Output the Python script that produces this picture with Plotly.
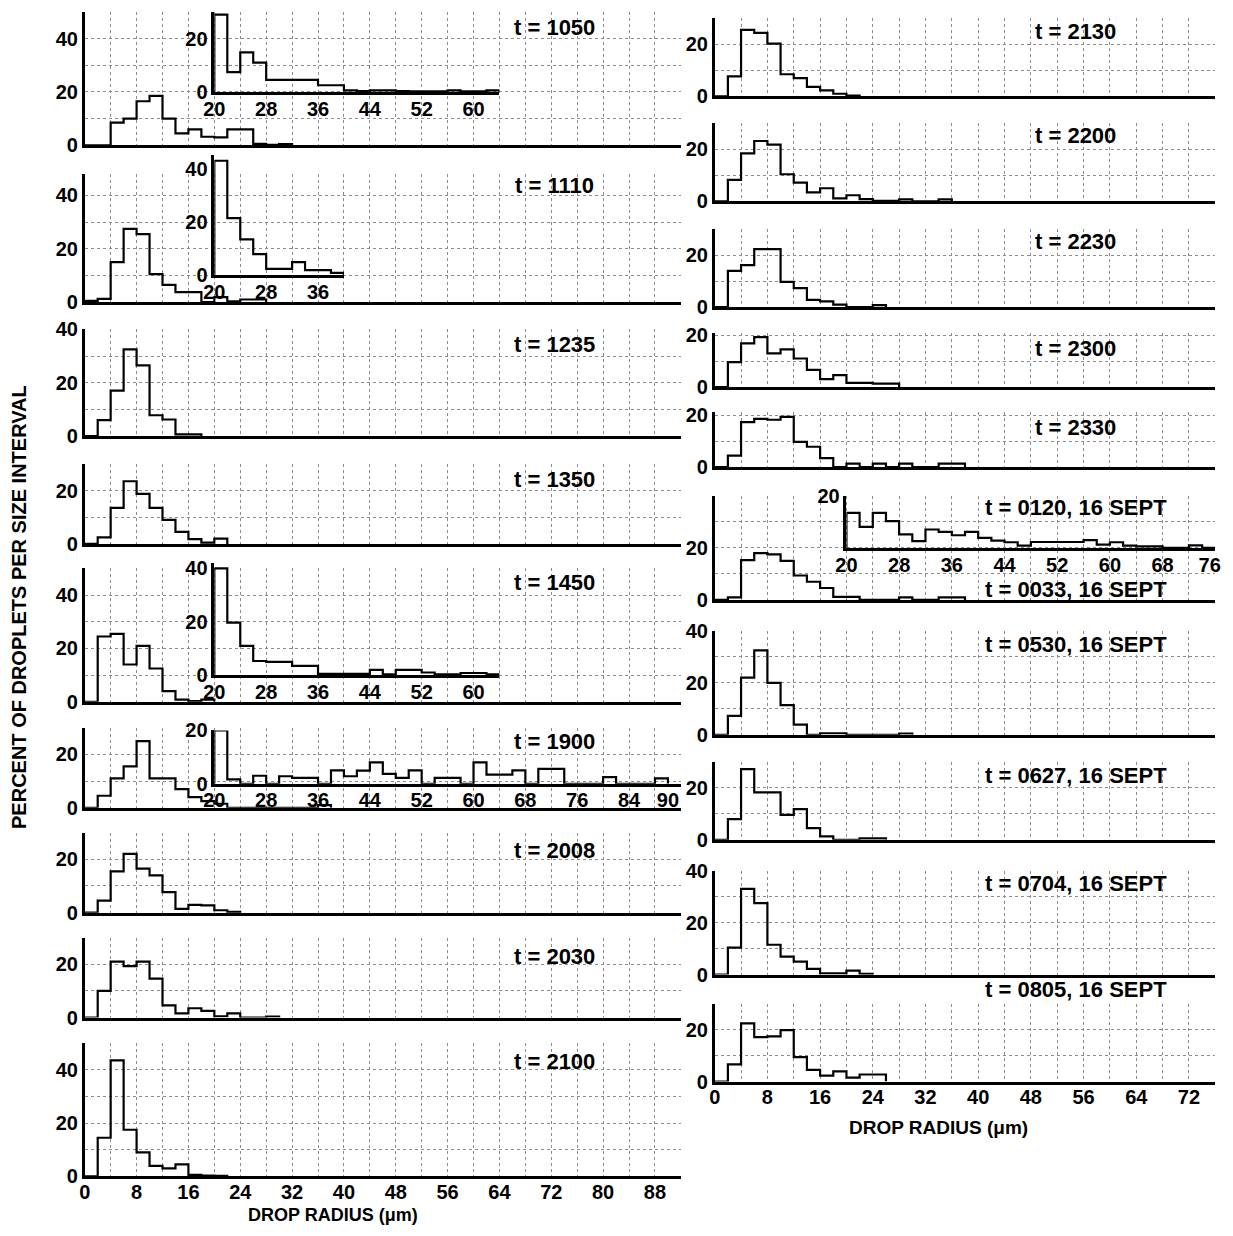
import plotly.graph_objects as go

# ---------------------------------------------------------------
# Droplet size spectra: percent of droplets per 2-um radius interval
# Each list starts at the bin 0-2 um (main panels) or 20-22 um (insets)
# ---------------------------------------------------------------
BIN = 2

# left column
pct_1050 = [0, 0, 8.5, 10, 16.5, 18.5, 10, 4.5, 6, 3.2, 3, 6, 6, 0.5, 0.2, 0.4]
tail_1050 = [29, 7.4, 14.8, 11, 4.5, 4.5, 4.5, 4.5, 2.5, 2.5, 0.6, 0.3, 0.6, 0.6,
             0.3, 0.2, 0.2, 0.2, 0.6, 0.2, 0.2, 0.6]
pct_1110 = [0.5, 1.2, 15, 27.5, 25.5, 10.5, 6.5, 3.8, 3.8, 0, 1.9, 0.3, 1, 1]
tail_1110 = [43, 21.5, 13.5, 8, 2.5, 2.5, 5, 2, 2, 1]
pct_1235 = [0, 6, 17, 32.5, 26.5, 7.8, 6.2, 0.6, 0.6]
pct_1350 = [0, 2.5, 13.5, 23.5, 18.8, 13.5, 9, 4.5, 1.8, 0.5, 2]
pct_1450 = [0, 24.5, 25.5, 14, 21, 12.5, 4, 0.8, 0.3, 0.8]
tail_1450 = [40, 19.7, 11, 5.3, 5, 5, 3.5, 3.5, 0.5, 0.5, 0.5, 0.5, 2, 0.3,
             2, 2, 1, 0.3, 0.3, 0.8, 0.8, 0.3]
pct_1900 = [0, 4.5, 11, 15.5, 25, 11, 11, 7, 4, 2.5, 1.5, 0, 0, 0, 0, 0, 0, 0, 1]
tail_1900 = [20, 1.6, 0, 3, 0, 2.8, 2.2, 2.2, 0, 5, 2.8, 4.9, 8, 3.7, 2.2, 5, 0,
             2.2, 2.2, 0, 8, 3.4, 3.4, 5, 0, 5.6, 5.6, 0, 0, 0, 2.5, 0, 0, 0, 2]
pct_2008 = [0, 4.5, 15.5, 22, 16.5, 14, 7.7, 1.4, 2.9, 2.7, 0.9, 0.3]
pct_2030 = [0, 10, 21, 19.3, 21, 14.6, 4.6, 1.6, 3.5, 2.5, 0.5, 1.6, 0, 0, 0.4]
pct_2100 = [0, 14.5, 43.5, 17.5, 9, 4, 3, 4.5, 0.6, 0.3, 0.2]

# right column
pct_2130 = [0, 7.7, 25.6, 24.4, 20.3, 8.5, 7, 3.6, 2.3, 1, 0.3]
pct_2200 = [0, 8.2, 18.4, 23.2, 21.8, 10.4, 7.2, 3.4, 5, 1.1, 2.3, 0.8, 0.2, 0.2,
            0.7, 0, 0, 0.7]
pct_2230 = [0, 14, 16.2, 22.3, 22.3, 9.7, 7.3, 2.8, 2.2, 1, 0, 0, 0.8]
pct_2300 = [0, 9.6, 16.8, 19.2, 13, 14.5, 11, 6.6, 3.1, 4.6, 1.6, 1.6, 1.3, 1.3]
pct_2330 = [0, 4.4, 17.3, 18.5, 18.2, 19.3, 9.7, 7.8, 3.4, 0, 1.3, 0, 1.3, 0,
            1.3, 0, 0, 1.3, 1.3]
pct_0033 = [0, 1, 15.3, 18, 17.5, 15, 9.4, 7, 4.6, 1.2, 1.2, 0, 0, 0, 1, 0, 0, 1, 1]
tail_0120 = [13.5, 8.1, 13.5, 10.3, 5.2, 2.6, 7.1, 6.2, 4.9, 6.2, 3.9, 2.8, 2.2,
             0.9, 2.3, 2.3, 2.3, 2.3, 3, 1.3, 2.2, 0.9, 0.6, 0.6, 0, 0, 1, 0]
pct_0530 = [0, 7.3, 22, 32.5, 20, 11.4, 3.9, 0, 0.6, 0.6, 0, 0, 0, 0, 0.5]
pct_0627 = [0, 7.9, 27.2, 18.2, 18.2, 9.6, 11.8, 4.5, 1.3, 0, 0, 0.5, 0.5]
pct_0704 = [0, 10.4, 33, 27.5, 11.5, 6.9, 5, 2.2, 0.5, 0.5, 1.5, 0.3]
pct_0805 = [0, 6.6, 22.4, 17.1, 17.4, 19.8, 9.4, 4.5, 2.3, 3.9, 1.5, 2.7, 2.7]

# ---------------------------------------------------------------
# sheet geometry: positions below are sheet pixels, mapped onto the
# figure's paper through a small offset and scale
# ---------------------------------------------------------------
W, H = 1233, 1236
OFF_X, SC_X = 9.9, 0.982
OFF_Y, SC_Y = 10.6, 0.983
FONT = "Liberation Sans"

COLS = {
    # x0 px, x1 px, x max (um), px per percent, label centre x
    "L": dict(x0=84, x1=683, xmax=92, yscale=2.67, label_x=556),
    "R": dict(x0=717, x1=1220, xmax=76, yscale=2.6, label_x=1080),
}

# (column, baseline px, y max, y tick labels, title, title y px, values, bottom?)
panels = [
    ("L", 145, 50, [0, 20, 40], "t = 1050", 27, pct_1050, False),
    ("L", 302, 48, [0, 20, 40], "t = 1110", 185, pct_1110, False),
    ("L", 436, 40, [0, 20, 40], "t = 1235", 344, pct_1235, False),
    ("L", 544, 30, [0, 20], "t = 1350", 479, pct_1350, False),
    ("L", 702, 50, [0, 20, 40], "t = 1450", 583, pct_1450, False),
    ("L", 808, 30, [0, 20], "t = 1900", 742, pct_1900, False),
    ("L", 913, 30, [0, 20], "t = 2008", 851, pct_2008, False),
    ("L", 1018, 30, [0, 20], "t = 2030", 957, pct_2030, False),
    ("L", 1177, 50, [0, 20, 40], "t = 2100", 1062, pct_2100, True),
    ("R", 96, 30, [0, 20], "t = 2130", 31, pct_2130, False),
    ("R", 201, 30, [0, 20], "t = 2200", 135, pct_2200, False),
    ("R", 307, 30, [0, 20], "t = 2230", 241, pct_2230, False),
    ("R", 387, 21, [0, 20], "t = 2300", 348, pct_2300, False),
    ("R", 467, 21, [0, 20], "t = 2330", 427, pct_2330, False),
    ("R", 600, 40, [0, 20], "t = 0033, 16 SEPT", 590, pct_0033, False),
    ("R", 735, 40, [0, 20, 40], "t = 0530, 16 SEPT", 645, pct_0530, False),
    ("R", 840, 30, [0, 20], "t = 0627, 16 SEPT", 776, pct_0627, False),
    ("R", 975, 40, [0, 20, 40], "t = 0704, 16 SEPT", 884, pct_0704, False),
    ("R", 1082, 30, [0, 20], "t = 0805, 16 SEPT", 990, pct_0805, True),
]

# (parent panel index, baseline in parent %, y max, x end, x ticks, y ticks, values)
insets = [
    (0, 20, 30, 64, list(range(20, 61, 8)), [0, 20], tail_1050),
    (1, 10, 45, 40, [20, 28, 36], [0, 20, 40], tail_1110),
    (4, 10, 42, 64, list(range(20, 61, 8)), [0, 20, 40], tail_1450),
    (5, 9, 20, 92, list(range(20, 85, 8)) + [90], [0, 20], tail_1900),
    (14, 20, 20, 76, list(range(20, 77, 8)), [20], tail_0120),
]
inset_titles = [("t = 0120, 16 SEPT", 508)]


def fx(px):
    return ((px - OFF_X) / SC_X) / W


def fy(py):
    return 1 - ((py - OFF_Y) / SC_Y) / H


def step_outline(values, start):
    """Outline of a histogram with 2-um bins, drawn as an hv step line."""
    xs = [start] + [start + BIN * i for i in range(len(values))] + [start + BIN * len(values)]
    ys = [0] + list(values) + [0]
    return xs, ys


tickfont = dict(family=FONT, size=20, color="black", weight="bold")
line_style = dict(showline=True, linecolor="black", linewidth=2.5,
                  zeroline=False, ticks="", mirror=False)
grid_style = dict(showgrid=True, gridcolor="#8c8c8c", gridwidth=1, griddash="dot")

fig = go.Figure()
layout = {}
annotations = []


def label(text, px, py, size, angle=0):
    annotations.append(dict(text="<b>%s</b>" % text, x=fx(px), y=fy(py),
                            xref="paper", yref="paper", showarrow=False,
                            xanchor="center", yanchor="middle", textangle=angle,
                            font=dict(family=FONT, size=size, color="black")))


n = 0
for col, base, ymax, ylabs, title, ty, vals, bottom in panels:
    n += 1
    c = COLS[col]
    xs_ = "" if n == 1 else str(n)
    top = base - ymax * c["yscale"]
    xt = list(range(0, c["xmax"] + 1, 4))
    layout["xaxis" + xs_] = dict(
        domain=[fx(c["x0"]), min(1.0, fx(c["x1"]))], range=[0, c["xmax"]],
        anchor="y" + xs_, tickmode="array", tickvals=xt,
        ticktext=[str(v) if v % 8 == 0 else "" for v in xt],
        showticklabels=bottom, tickfont=tickfont, ticklabelstandoff=-4,
        **line_style, **grid_style)
    yt = list(range(0, ymax + 1, 10))
    layout["yaxis" + xs_] = dict(
        domain=[fy(base), min(1.0, fy(top))], range=[0, ymax],
        anchor="x" + xs_, tickmode="array", tickvals=yt,
        ticktext=[str(v) if v in ylabs else "" for v in yt],
        tickfont=tickfont, **line_style, **grid_style)
    x, y = step_outline(vals, 0)
    fig.add_trace(go.Scatter(x=x, y=y, mode="lines", line_shape="hv",
                             line=dict(color="black", width=2.2),
                             xaxis="x" + xs_, yaxis="y" + xs_,
                             showlegend=False, hoverinfo="skip"))
    label(title, c["label_x"], ty, 22)

for parent, pbase, ymax, xend, xticks, yticks, vals in insets:
    n += 1
    col, base = panels[parent][0], panels[parent][1]
    c = COLS[col]
    s = (c["x1"] - c["x0"]) / c["xmax"]
    ibase = base - pbase * c["yscale"]
    itop = ibase - ymax * c["yscale"]
    xs_ = str(n)
    # the last label of an inset that reaches the sheet edge is nudged inwards
    xtext = [str(v) for v in xticks]
    if xend == c["xmax"] and col == "R":
        xtext[-1] = xtext[-1] + "\u00a0\u00a0"
    layout["xaxis" + xs_] = dict(
        domain=[fx(c["x0"] + 20 * s), min(1.0, fx(c["x0"] + xend * s))], range=[20, xend],
        anchor="y" + xs_, tickmode="array", tickvals=xticks,
        ticktext=xtext, tickfont=tickfont, ticklabelstandoff=-3,
        ticklabeloverflow="allow", showgrid=False, **line_style)
    layout["yaxis" + xs_] = dict(
        domain=[fy(ibase), min(1.0, fy(itop))], range=[0, ymax],
        anchor="x" + xs_, tickmode="array", tickvals=yticks,
        ticktext=[str(v) for v in yticks], tickfont=tickfont,
        showgrid=False, **line_style)
    x, y = step_outline(vals, 20)
    fig.add_trace(go.Scatter(x=x, y=y, mode="lines", line_shape="hv",
                             line=dict(color="black", width=2.2),
                             xaxis="x" + xs_, yaxis="y" + xs_,
                             showlegend=False, hoverinfo="skip"))

for title, ty in inset_titles:
    label(title, COLS["R"]["label_x"], ty, 22)

# axis titles
label("PERCENT OF DROPLETS PER SIZE INTERVAL", 18, 607, 20, angle=-90)
label("DROP RADIUS (\u03bcm)", 333, 1216, 18)
label("DROP RADIUS (\u03bcm)", 942, 1128, 19)

fig.update_layout(
    width=W, height=H, margin=dict(l=0, r=0, t=0, b=0),
    paper_bgcolor="white", plot_bgcolor="rgba(0,0,0,0)",
    showlegend=False, annotations=annotations, **layout)

fig.write_html("out.html")
